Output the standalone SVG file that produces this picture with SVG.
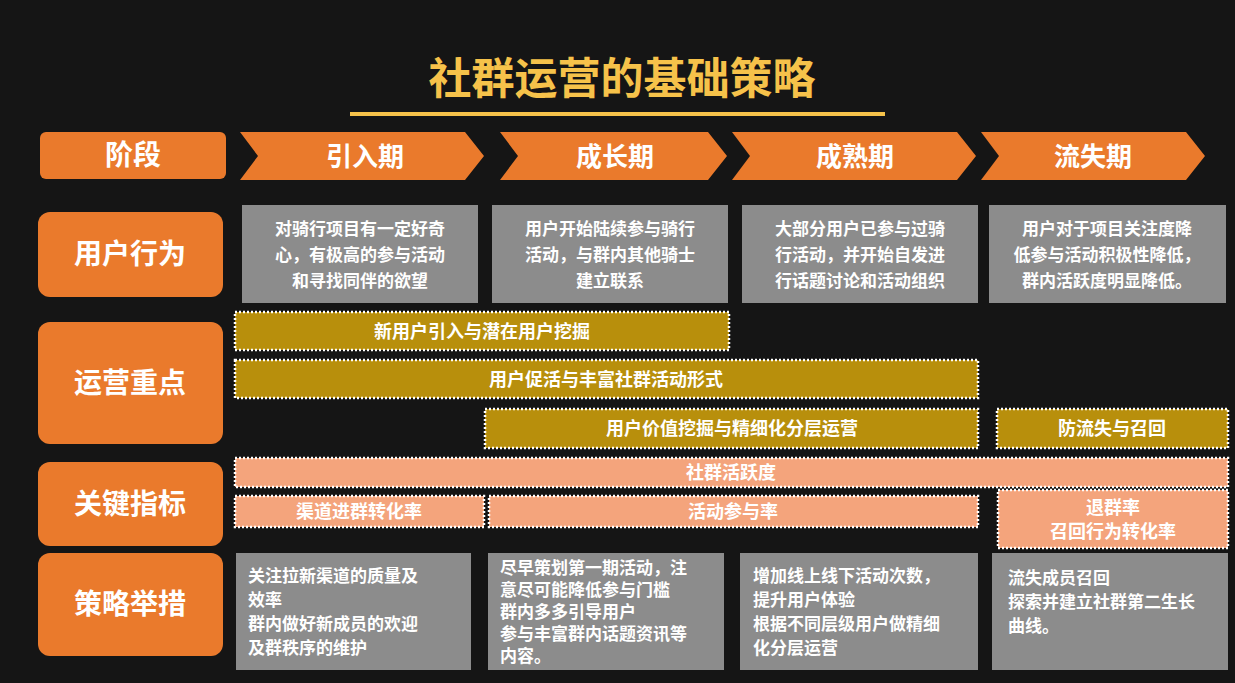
<svg xmlns="http://www.w3.org/2000/svg" width="1235" height="683" viewBox="0 0 1235 683">
<style>
text{font-family:"Noto Sans CJK SC","Noto Sans",sans-serif;font-weight:bold}
.hdr{fill:#ea7a2c}
.hdrt{fill:#fff;font-size:28px;text-anchor:middle}
.chev{fill:#ea7a2c}
.chevt{fill:#fff;font-size:26px;text-anchor:middle}
.gray{fill:#8c8c8c}
.gt{fill:#fff;font-size:17px}
.gold{fill:#b88f0c;stroke:#fff;stroke-width:2.5;stroke-dasharray:2 2}
.peach{fill:#f4a47c;stroke:#fff;stroke-width:2.5;stroke-dasharray:2 2}
.bt{fill:#fff;font-size:18px;text-anchor:middle}
</style>
<rect width="1235" height="683" fill="#151515"/>
<g id="title">
<text x="622" y="94" font-size="43" fill="#f6c24a" text-anchor="middle">社群运营的基础策略</text>
<line x1="350" y1="114" x2="885" y2="114" stroke="#f6c24a" stroke-width="4"/>
</g>
<g id="headers">
<g id="h-stage"><rect class="hdr" x="40" y="132" width="186" height="47" rx="6"/><text class="hdrt" x="133" y="165">阶段</text></g>
<g id="h-behavior"><rect class="hdr" x="38" y="212" width="185" height="85" rx="12"/><text class="hdrt" x="130" y="264">用户行为</text></g>
<g id="h-focus"><rect class="hdr" x="38" y="322" width="185" height="122" rx="12"/><text class="hdrt" x="130" y="393">运营重点</text></g>
<g id="h-kpi"><rect class="hdr" x="38" y="462" width="185" height="84" rx="12"/><text class="hdrt" x="130" y="514">关键指标</text></g>
<g id="h-action"><rect class="hdr" x="38" y="553" width="185" height="103" rx="12"/><text class="hdrt" x="130" y="614">策略举措</text></g>
</g>
<g id="stages">
<g id="s1"><polygon class="chev" points="240,132 465,132 484,156 465,180 240,180 258,156"/><text class="chevt" x="365" y="166">引入期</text></g>
<g id="s2"><polygon class="chev" points="500,132 708,132 727,156 708,180 500,180 518,156"/><text class="chevt" x="615" y="166">成长期</text></g>
<g id="s3"><polygon class="chev" points="732,132 957,132 976,156 957,180 732,180 750,156"/><text class="chevt" x="855" y="166">成熟期</text></g>
<g id="s4"><polygon class="chev" points="981,132 1186,132 1205,156 1186,180 981,180 999,156"/><text class="chevt" x="1093" y="166">流失期</text></g>
</g>
<g id="behavior">
<g id="b1"><rect class="gray" x="242" y="205" width="236" height="98"/><text class="gt" text-anchor="middle"><tspan x="360" y="235">对骑行项目有一定好奇</tspan><tspan x="360" y="261">心，有极高的参与活动</tspan><tspan x="360" y="287">和寻找同伴的欲望</tspan></text></g>
<g id="b2"><rect class="gray" x="492" y="205" width="236" height="98"/><text class="gt" text-anchor="middle"><tspan x="610" y="235">用户开始陆续参与骑行</tspan><tspan x="610" y="261">活动，与群内其他骑士</tspan><tspan x="610" y="287">建立联系</tspan></text></g>
<g id="b3"><rect class="gray" x="742" y="205" width="236" height="98"/><text class="gt" text-anchor="middle"><tspan x="860" y="235">大部分用户已参与过骑</tspan><tspan x="860" y="261">行活动，并开始自发进</tspan><tspan x="860" y="287">行话题讨论和活动组织</tspan></text></g>
<g id="b4"><rect class="gray" x="989" y="205" width="237" height="98"/><text class="gt" text-anchor="middle"><tspan x="1107" y="235">用户对于项目关注度降</tspan><tspan x="1107" y="261">低参与活动积极性降低，</tspan><tspan x="1107" y="287">群内活跃度明显降低。</tspan></text></g>
</g>
<g id="focus">
<g id="f1"><rect class="gold" x="235" y="312" width="494" height="38"/><text class="bt" x="482" y="338">新用户引入与潜在用户挖掘</text></g>
<g id="f2"><rect class="gold" x="235" y="360" width="743" height="38"/><text class="bt" x="606" y="386">用户促活与丰富社群活动形式</text></g>
<g id="f3"><rect class="gold" x="485" y="409" width="493" height="39"/><text class="bt" x="732" y="435">用户价值挖掘与精细化分层运营</text></g>
<g id="f4"><rect class="gold" x="997" y="409" width="231" height="39"/><text class="bt" x="1112" y="435">防流失与召回</text></g>
</g>
<g id="kpi">
<g id="k1"><rect class="peach" x="235" y="458" width="993" height="29"/><text class="bt" x="731" y="479">社群活跃度</text></g>
<g id="k2"><rect class="peach" x="235" y="496" width="249" height="31"/><text class="bt" x="359" y="518">渠道进群转化率</text></g>
<g id="k3"><rect class="peach" x="489" y="496" width="489" height="31"/><text class="bt" x="733" y="518">活动参与率</text></g>
<g id="k4"><rect class="peach" x="998" y="490" width="230" height="58"/><text class="bt"><tspan x="1113" y="514">退群率</tspan><tspan x="1113" y="538">召回行为转化率</tspan></text></g>
</g>
<g id="actions">
<g id="a1"><rect class="gray" x="236" y="553" width="235" height="117"/><text class="gt"><tspan x="248" y="582">关注拉新渠道的质量及</tspan><tspan x="248" y="606">效率</tspan><tspan x="248" y="630">群内做好新成员的欢迎</tspan><tspan x="248" y="654">及群秩序的维护</tspan></text></g>
<g id="a2"><rect class="gray" x="488" y="553" width="236" height="117"/><text class="gt" font-size="14"><tspan x="500" y="574">尽早策划第一期活动，注</tspan><tspan x="500" y="596">意尽可能降低参与门槛</tspan><tspan x="500" y="618">群内多多引导用户</tspan><tspan x="500" y="640">参与丰富群内话题资讯等</tspan><tspan x="500" y="662">内容。</tspan></text></g>
<g id="a3"><rect class="gray" x="740" y="553" width="238" height="117"/><text class="gt" font-size="15"><tspan x="753" y="582">增加线上线下活动次数，</tspan><tspan x="753" y="606">提升用户体验</tspan><tspan x="753" y="630">根据不同层级用户做精细</tspan><tspan x="753" y="654">化分层运营</tspan></text></g>
<g id="a4"><rect class="gray" x="992" y="553" width="236" height="117"/><text class="gt" font-size="16"><tspan x="1008" y="584">流失成员召回</tspan><tspan x="1008" y="608">探索并建立社群第二生长</tspan><tspan x="1008" y="632">曲线。</tspan></text></g>
</g>
</svg>
